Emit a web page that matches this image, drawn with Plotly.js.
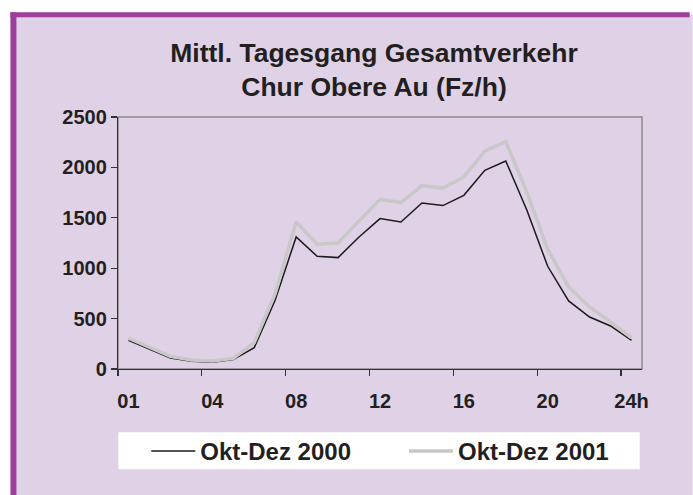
<!DOCTYPE html>
<html>
<head>
<meta charset="utf-8">
<script src="https://cdn.plot.ly/plotly-3.0.1.min.js"></script>
<style>
  html, body { margin: 0; padding: 0; background: #ffffff; overflow: hidden; }
  #chart { width: 693px; height: 495px; }
</style>
</head>
<body>
<div id="chart"></div>
<script>
// ---- data ----
const hourIndex = [0, 1, 2, 3, 4, 5, 6, 7, 8, 9, 10, 11, 12, 13, 14, 15, 16, 17, 18, 19, 20, 21, 22, 23, 24];
const okt2000 = [285, 195, 109, 76, 66, 93, 212, 685, 1310, 1118, 1105, 1310, 1492, 1458, 1647, 1621, 1723, 1971, 2064, 1580, 1019, 675, 516, 427, 285];
const okt2001 = [305, 212, 125, 90, 80, 105, 262, 750, 1458, 1237, 1250, 1468, 1684, 1651, 1819, 1796, 1905, 2160, 2256, 1760, 1187, 814, 615, 466, 308];
const seriesNames = ["Okt-Dez 2000", "Okt-Dez 2001"];
const xTickIndex = [0, 4, 8, 12, 16, 20, 24];
const xTickLabels = ["01", "04", "08", "12", "16", "20", "24h"];
const xBoundaryTicks = [-0.5, 3.5, 7.5, 11.5, 15.5, 19.5, 23.5];
const yTickValues = [0, 500, 1000, 1500, 2000, 2500];
const titleText = "Mittl. Tagesgang Gesamtverkehr<br>Chur Obere Au (Fz/h)";

// ---- geometry helpers (plot area in px) ----
const W = 693, H = 495;
const PL = 117.7, PR = 642.3, PT = 116.7, PB = 368.7;
const px = v => (v - PL) / (PR - PL);
const py = v => (PB - v) / (PB - PT);

const FONT = "Liberation Sans, Arial, Helvetica, sans-serif";
const LAV = "#dfd1e6";
const PURPLE = "#9b3f9b";
const TXT = "#231f20";

const traces = [
  {
    x: hourIndex, y: okt2000, name: seriesNames[0], type: "scatter", mode: "lines",
    line: { color: "#1a1a1a", width: 1.5 }, xaxis: "x", yaxis: "y", legend: "legend"
  },
  {
    x: hourIndex, y: okt2001, name: seriesNames[1], type: "scatter", mode: "lines",
    line: { color: "#c8c8c8", width: 3.5 }, xaxis: "x", yaxis: "y", legend: "legend2"
  },
  // invisible trace on xaxis2 so its labels are drawn
  { x: [0], y: [0], xaxis: "x2", yaxis: "y", mode: "markers",
    marker: { opacity: 0 }, showlegend: false, hoverinfo: "skip" }
];

const legendCommon = {
  orientation: "h",
  xanchor: "left",
  y: py(451), yanchor: "middle",
  bgcolor: "rgba(0,0,0,0)", borderwidth: 0,
  itemwidth: 44,
  font: { family: FONT, size: 24, color: TXT, weight: "bold" }
};

const layout = {
  width: W, height: H,
  margin: { l: PL, r: W - PR, t: PT, b: H - PB, pad: 0 },
  paper_bgcolor: "#ffffff",
  plot_bgcolor: "rgba(0,0,0,0)",
  showlegend: true,
  title: {
    text: titleText,
    font: { family: FONT, size: 26.5, color: TXT, weight: "bold" },
    x: 374 / W, xanchor: "center", xref: "container",
    y: 1 - 61.5 / H, yanchor: "middle", yref: "container"
  },
  xaxis: {
    range: [-0.5, 24.5], fixedrange: true,
    tickmode: "array", tickvals: xBoundaryTicks,
    showticklabels: false,
    ticks: "outside", ticklen: 6, tickwidth: 1.2, tickcolor: "#333333",
    showline: true, linecolor: "#333333", linewidth: 1.2,
    showgrid: false, zeroline: false
  },
  xaxis2: {
    overlaying: "x", anchor: "y", side: "bottom",
    range: [-0.5, 24.5], fixedrange: true,
    tickmode: "array", tickvals: xTickIndex, ticktext: xTickLabels,
    ticks: "outside", ticklen: 14, tickcolor: "rgba(0,0,0,0)", tickwidth: 0.1,
    tickfont: { family: FONT, size: 20, color: TXT, weight: "bold" },
    showline: false, showgrid: false, zeroline: false
  },
  yaxis: {
    range: [0, 2500], fixedrange: true,
    tickmode: "array", tickvals: yTickValues,
    ticks: "outside", ticklen: 6, tickwidth: 1.2, tickcolor: "#333333",
    tickfont: { family: FONT, size: 20, color: TXT, weight: "bold" },
    showline: true, linecolor: "#333333", linewidth: 1.2,
    showgrid: false, zeroline: false
  },
  legend: Object.assign({}, legendCommon, { x: px(146) }),
  legend2: Object.assign({}, legendCommon, { x: px(404) }),
  shapes: [
    // outer frame fill
    { type: "rect", xref: "paper", yref: "paper", layer: "below",
      x0: px(13), x1: px(693), y0: py(495), y1: py(14.5),
      fillcolor: LAV, line: { width: 0 } },
    // frame: top and left purple edges
    { type: "line", xref: "paper", yref: "paper", layer: "below",
      x0: px(10), x1: px(690), y0: py(14.5), y1: py(14.5),
      line: { color: PURPLE, width: 5 } },
    { type: "line", xref: "paper", yref: "paper", layer: "below",
      x0: px(13), x1: px(13), y0: py(12), y1: py(495),
      line: { color: PURPLE, width: 6 } },
    // plot border (top/right grey)
    { type: "rect", xref: "paper", yref: "paper", layer: "below",
      x0: 0, x1: 1, y0: 0, y1: 1,
      fillcolor: "rgba(0,0,0,0)", line: { color: "#8c8c8c", width: 1.5 } },
    // legend white box
    { type: "rect", xref: "paper", yref: "paper", layer: "below",
      x0: px(118), x1: px(640), y0: py(469), y1: py(432),
      fillcolor: "#ffffff", line: { width: 0 } }
  ]
};

Plotly.newPlot("chart", traces, layout, { displayModeBar: false, staticPlot: true });
</script>
</body>
</html>
